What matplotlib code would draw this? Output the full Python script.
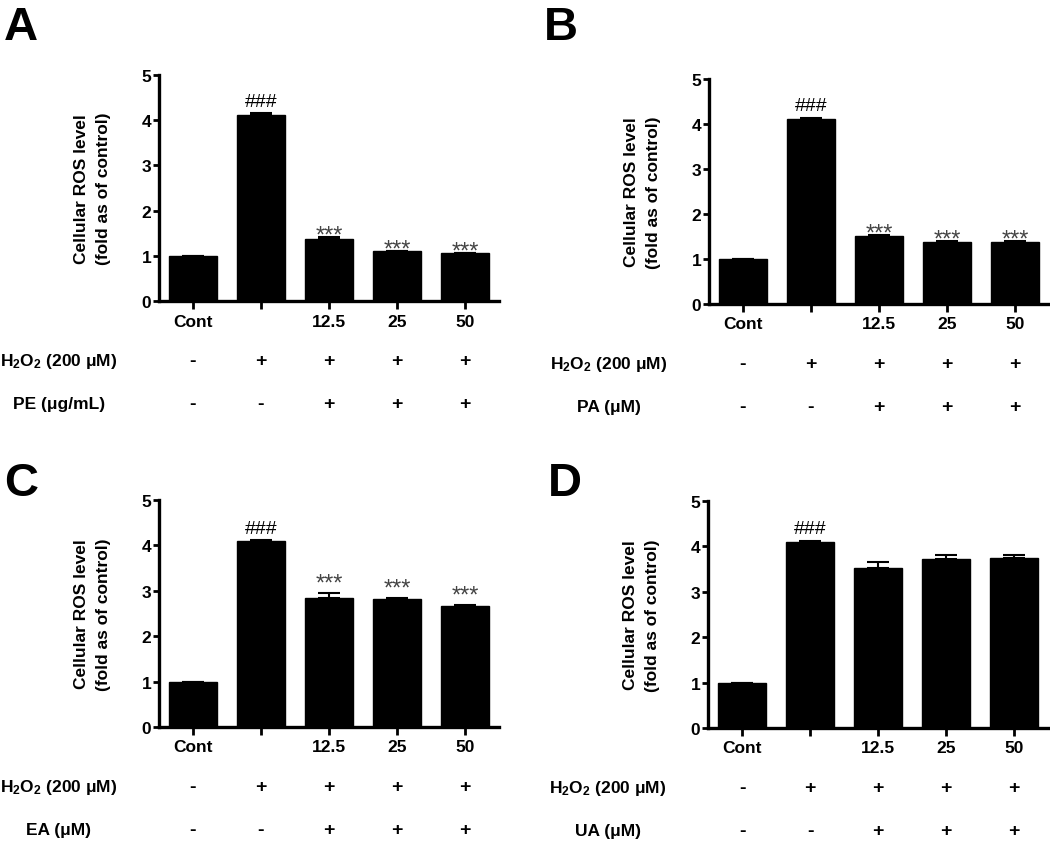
import matplotlib
matplotlib.use("Agg")
import matplotlib.pyplot as plt
import numpy as np

plt.rcParams['font.family'] = ['Liberation Sans', 'DejaVu Sans']
plt.rcParams['font.weight'] = 'bold'
plt.rcParams['mathtext.fontset'] = 'custom'
plt.rcParams['mathtext.rm'] = 'Liberation Sans:bold'
plt.rcParams['mathtext.bf'] = 'Liberation Sans:bold'
plt.rcParams['mathtext.default'] = 'bf'

# data
categories = ["Cont", "", "12.5", "25", "50"]
h2o2_signs = ["-", "+", "+", "+", "+"]
treat_signs = ["-", "-", "+", "+", "+"]

pe_mean = [1.0, 4.12, 1.38, 1.10, 1.06]
pe_err = [0.0, 0.03, 0.03, 0.01, 0.01]
pa_mean = [1.0, 4.11, 1.50, 1.38, 1.38]
pa_err = [0.0, 0.03, 0.03, 0.02, 0.01]
ea_mean = [1.0, 4.09, 2.85, 2.81, 2.67]
ea_err = [0.0, 0.03, 0.10, 0.03, 0.01]
ua_mean = [1.0, 4.09, 3.53, 3.72, 3.75]
ua_err = [0.0, 0.03, 0.12, 0.09, 0.06]

sig_stars = ["", "###", "***", "***", "***"]
sig_none = ["", "###", "", "", ""]

# letter, means, errors, marks, treatment label, axes rect, letter pos, star offset (pt)
panels = [
    ("A", pe_mean, pe_err, sig_stars, "PE (μg/mL)", [0.1514, 0.6426, 0.3238, 0.2675], (0.004, 0.953), 1),
    ("B", pa_mean, pa_err, sig_stars, "PA (μM)", [0.6752, 0.6391, 0.3238, 0.2663], (0.518, 0.953), 1),
    ("C", ea_mean, ea_err, sig_stars, "EA (μM)", [0.1514, 0.1385, 0.3238, 0.2686], (0.004, 0.413), 7),
    ("D", ua_mean, ua_err, sig_none, "UA (μM)", [0.6743, 0.1373, 0.3238, 0.2690], (0.522, 0.413), 1),
]

fig = plt.figure(figsize=(10.5, 8.45), dpi=100)

for letter, mean, err, sig, treat_label, rect, lpos, star_dy in panels:
    ax = fig.add_axes(rect)
    x = np.arange(len(categories))
    ax.bar(x, mean, width=0.7, color="black", edgecolor="black", linewidth=1,
           yerr=[np.zeros(len(err)), err], capsize=8,
           error_kw=dict(ecolor="black", elinewidth=1.5, capthick=1.5))
    ax.set_xlim(-0.5, 4.5)
    ax.set_ylim(0, 5)
    ax.set_yticks([0, 1, 2, 3, 4, 5])
    ax.set_xticks(x)
    ax.set_xticklabels(categories, fontsize=12.5, fontweight="bold")
    ax.tick_params(axis="y", labelsize=12.5, length=4.5, width=2, pad=1)
    ax.tick_params(axis="x", length=5.5, width=2, pad=3.5)
    for lab in ax.get_yticklabels():
        lab.set_fontweight("bold")
    ax.spines["top"].set_visible(False)
    ax.spines["right"].set_visible(False)
    ax.spines["left"].set_linewidth(2.4)
    ax.spines["bottom"].set_linewidth(2.4)
    ax.set_ylabel("Cellular ROS level\n(fold as of control)", fontsize=12.5,
                  fontweight="bold", linespacing=1.6)
    ax.yaxis.set_label_coords(-0.14, 0.5)

    # significance marks
    for i, s in enumerate(sig):
        if not s:
            continue
        top = mean[i] + err[i]
        if s.startswith("#"):
            ax.annotate(s, xy=(i, top), xytext=(0, 8.5), textcoords="offset points",
                        ha="center", va="center", fontsize=14, fontweight="normal",
                        color="black")
        else:
            ax.annotate(s, xy=(i, top), xytext=(0, star_dy), textcoords="offset points",
                        ha="center", va="center", fontsize=17, fontweight="normal",
                        color="#444444")

    # treatment rows below the axis
    rows = [("H$_2$O$_2$ (200 μM)", h2o2_signs, -43), (treat_label, treat_signs, -74)]
    for label, signs, dy in rows:
        ax.annotate(label, xy=(0, 0), xycoords="axes fraction",
                    xytext=(-72, dy), textcoords="offset points",
                    ha="center", va="center", fontsize=12.5, fontweight="bold")
        for i, s in enumerate(signs):
            ax.annotate(s, xy=(i, 0), xycoords=("data", "axes fraction"),
                        xytext=(0, dy), textcoords="offset points",
                        ha="center", va="center", fontsize=14, fontweight="bold")

    fig.text(lpos[0], lpos[1], letter, fontsize=34, fontweight="bold",
             ha="left", va="baseline")

fig.savefig("out.png", dpi=100)
